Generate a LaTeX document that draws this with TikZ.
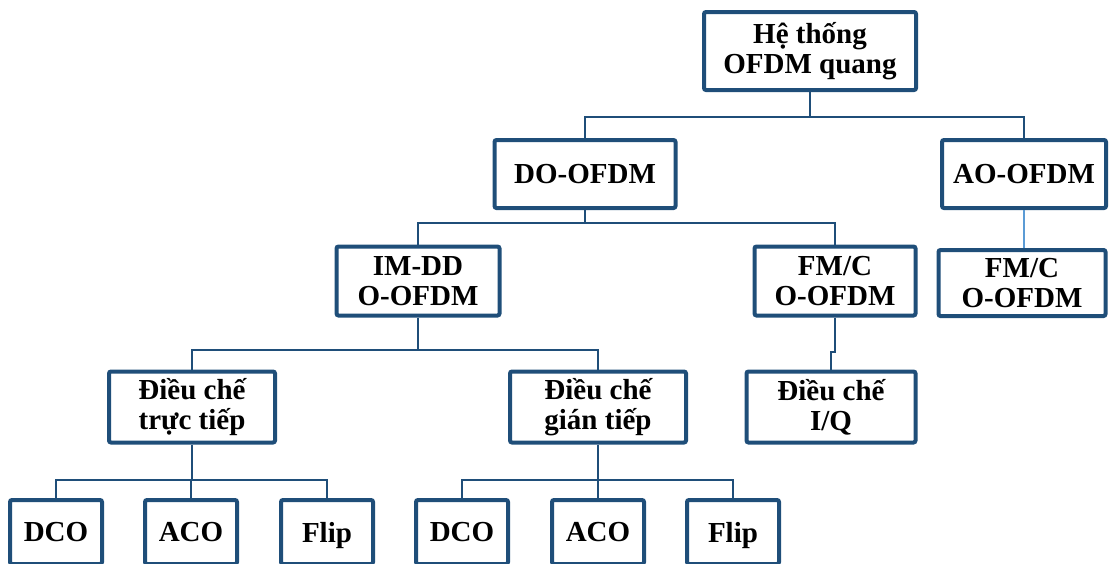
\documentclass[tikz,border=0pt]{standalone}
\usepackage{fontspec}
\setmainfont{Liberation Serif}
\definecolor{boxblue}{RGB}{31,78,121}
\definecolor{lineblue}{RGB}{91,155,213}
\begin{document}
\begin{tikzpicture}[x=1pt,y=-1pt,
        box/.style={draw=boxblue,line width=4pt,rounded corners=2pt,fill=white,align=center,inner sep=0pt,
            font=\bfseries\fontsize{29}{30}\selectfont},
        leaf/.style={box,minimum width=92,minimum height=64,text depth=0pt},
        link/.style={draw=boxblue,line width=2.8pt}]
            \useasboundingbox (0,0) rectangle (1111,563);
            \node[box,minimum width=212,minimum height=78] at (810,51)(sys){Hệ thống\\OFDM quang};
            \node[box,minimum width=181,minimum height=68] at (585,174)(do){DO-OFDM};
            \node[box,minimum width=164,minimum height=68] at (1024,174)(ao){AO-OFDM};
            \node[box,minimum width=167,minimum height=66] at (1022,283)(fmcb){FM/C\\O-OFDM};
            \node[box,minimum width=163,minimum height=69] at (418,281)(imdd){IM-DD\\O-OFDM};
            \node[box,minimum width=161,minimum height=69] at (835,281)(fmca){FM/C\\O-OFDM};
            \node[box,minimum width=169,minimum height=71] at (831,407)(iq){Điều chế\\I/Q};
            \node[box,minimum width=166,minimum height=71] at (192,407)(tt){Điều chế\\trực tiếp};
            \node[box,minimum width=176,minimum height=71] at (598,407)(gt){Điều chế\\gián tiếp};
            \coordinate (j0) at (810,117);
            \coordinate (j1) at (585,223);
            \coordinate (j2) at (418,350);
            \coordinate (j3) at (835,352);
            \coordinate (jt) at (192,480);
            \coordinate (jg) at (598,480);
            \path[link] (sys) -- (j0) -| (do);
            \path[link] (j0) -| (ao);
            \path[link] (do) -- (j1) -| (imdd);
            \path[link] (j1) -| (fmca);
            \path[link] (imdd) -- (j2) -| (tt);
            \path[link] (j2) -| (gt);
            \path[link] (fmca) -- (j3) -| (iq);
            \path[draw=lineblue,line width=2pt] (ao) -- (ao |- fmcb.north);
            \path[link] (tt) -- (jt);
            \path[link] (gt) -- (jg);
            \foreach \x/\t [count=\i] in {56/DCO,191/ACO,327/Flip}{
                \node[leaf] at (\x,532)(t\i){\t};
                \path[link] (jt) -| (t\i);
            }
            \foreach \x/\t [count=\i] in {462/DCO,598/ACO,733/Flip}{
                \node[leaf] at (\x,532)(g\i){\t};
                \path[link] (jg) -| (g\i);
            }
        \end{tikzpicture}
\end{document}
